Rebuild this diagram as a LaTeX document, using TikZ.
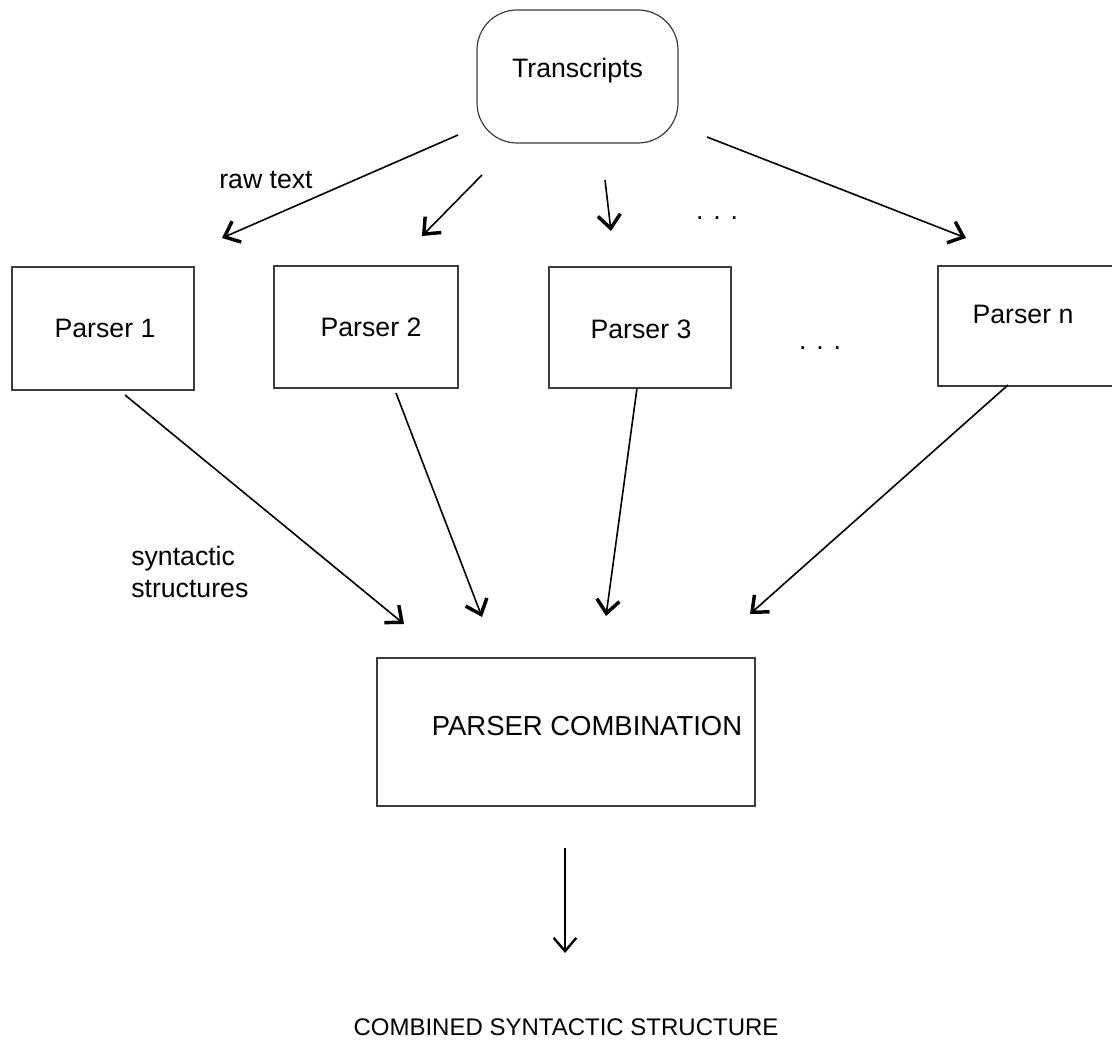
\documentclass[tikz,border=0pt]{standalone}
\usepackage{fontspec}
\setmainfont{Liberation Sans}
\usetikzlibrary{arrows.meta}

\tikzset{
  box/.style={draw={rgb, 255:red, 60; green, 60; blue, 60}, line width=0.9, rectangle, inner sep=0},
  txt/.style={font=\fontsize{20}{24}\selectfont, inner sep=0},
  feed/.style={line width=1.2, -{Straight Barb[length=10pt, width=17pt, line width=2.6pt]}}
}

\begin{document}
\begin{tikzpicture}[x=0.75pt,y=0.75pt,yscale=-1,xscale=1]
\useasboundingbox (0,0) rectangle (1112,1044);

%Rounded Rect [id:transcripts]
\node[box, rounded corners=30pt, minimum width=150.75pt, minimum height=99.75pt,
  label={[txt, yshift=4.5pt]center:Transcripts}] (trans) at (577.5,76.5) {};

%Shape: Rectangle [id:parsers]
\node[box, minimum width=136.5pt, minimum height=92.25pt,
  label={[txt, xshift=1.5pt]center:Parser 1}] (p1) at (103,328.5) {};
\node[box, minimum width=138pt, minimum height=91.5pt,
  label={[txt, xshift=3.75pt]center:Parser 2}] (p2) at (366,327) {};
\node[box, minimum width=136.5pt, minimum height=90.75pt,
  label={[txt, xshift=0.75pt, yshift=-1pt]center:Parser 3}] (p3) at (640,327.5) {};
\node[box, minimum width=135pt, minimum height=90pt,
  label={[txt, xshift=-3.75pt, yshift=9pt]center:Parser n}] (pn) at (1028,326) {};

%Shape: Rectangle [id:combination]
\node[box, minimum width=283.5pt, minimum height=111pt,
  label={[txt, font=\fontsize{20.6}{24}\selectfont, xshift=15.75pt, yshift=4.5pt]center:PARSER COMBINATION}] (comb) at (566,732) {};

%Text
\node[txt] (rawtext) at (266,180) {raw text};
\node[txt, align=left, anchor=west] (syntlbl) at (131,572) {syntactic\\structures};
\node[txt] (dotsa) at (717,218) {. . .};
\node[txt] (dotsb) at (820,348) {. . .};
\node[txt, font=\fontsize{18}{22}\selectfont] (result) at (566,1027) {COMBINED SYNTACTIC STRUCTURE};

%Arrow ends
\coordinate (t1) at (458,135);  \coordinate (h1) at (222,238);
\coordinate (t2) at (482,175);  \coordinate (h2) at (422,236);
\coordinate (t3) at (605,180);  \coordinate (h3) at (611,231);
\coordinate (t4) at (707,137);  \coordinate (h4) at (966,238);
\coordinate (s1) at (125,395);  \coordinate (e1) at (404,624);
\coordinate (s2) at (396,393);  \coordinate (e2) at (482,617);
\coordinate (s3) at (637,388);  \coordinate (e3) at (606,616);
\coordinate (s4) at (1008,385); \coordinate (e4) at (750,614);
\coordinate (c1) at (565,848);  \coordinate (c2) at (565,953);

%Straight Lines: raw text to the parsers
\draw[feed] (t1) -- (h1);
\draw[feed] (t2) -- (h2);
\draw[feed] (t3) -- (h3);
\draw[feed] (t4) -- (h4);

%Straight Lines: syntactic structures to the combination
\draw[feed] (s1) -- (e1);
\draw[feed] (s2) -- (e2);
\draw[feed] (s3) -- (e3);
\draw[feed] (s4) -- (e4);

%Straight Lines: combined output
\draw[feed, line width=1, -{Straight Barb[length=10pt, width=17pt, line width=1.8pt]}] (c1) -- (c2);

\end{tikzpicture}
\end{document}
